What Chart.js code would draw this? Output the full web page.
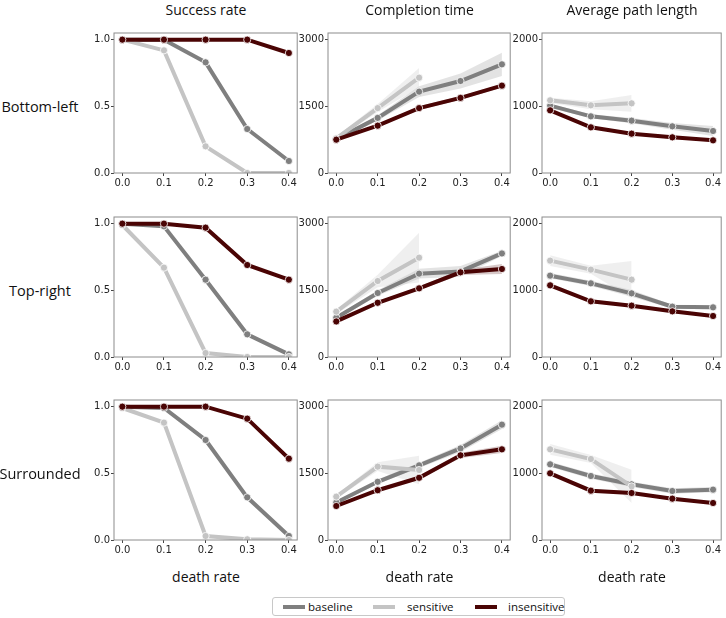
<!DOCTYPE html>
<html>
<head>
<meta charset="utf-8">
<script src="https://cdn.jsdelivr.net/npm/chart.js@4"></script>
<style>
  body { margin: 0; background: #fff; }
  #wrap { position: relative; width: 726px; height: 618px; font-family: "Open Sans", sans-serif; color: #111; overflow: hidden; }
  #wrap canvas { position: absolute; }
  .lbl { position: absolute; white-space: nowrap; transform: translate(-50%, -50%); }
  .title { font-size: 14px; }
  .row { font-size: 14.5px; }
  .xlab { font-size: 14px; }
  #legend { position: absolute; left: 272px; top: 597px; width: 293px; height: 19px; border: 1px solid #c8c8c8; border-radius: 3px; box-sizing: border-box; font-size: 11.5px; }
  #legend .ln { position: absolute; top: 7px; width: 22px; height: 4px; }
  #legend .tx { position: absolute; top: 0px; line-height: 17px; }
</style>
</head>
<body>
<div id="wrap"><div id="legend"></div></div>
<script>
const deathRates = [0, 0.1, 0.2, 0.3, 0.4];
const xTickLabels = ['0.0', '0.1', '0.2', '0.3', '0.4'];
const layouts = ['Bottom-left', 'Top-right', 'Surrounded'];
const metrics = ['Success rate', 'Completion time', 'Average path length'];
const seriesNames = ['baseline', 'sensitive', 'insensitive'];

// success rate, one row per layout
const srBaseline = [
  [1.00, 1.00, 0.83, 0.33, 0.09],
  [1.00, 0.98, 0.58, 0.17, 0.02],
  [1.00, 0.99, 0.75, 0.32, 0.03]
];
const srSensitive = [
  [1.00, 0.92, 0.20, 0.00, 0.00],
  [0.99, 0.67, 0.03, 0.00, 0.00],
  [0.99, 0.88, 0.03, 0.005, 0.00]
];
const srInsensitive = [
  [1.00, 1.00, 1.00, 1.00, 0.90],
  [1.00, 1.00, 0.97, 0.69, 0.58],
  [1.00, 1.00, 1.00, 0.91, 0.61]
];

// completion time
const ctBaseline = [
  [760, 1240, 1830, 2070, 2445],
  [885, 1440, 1875, 1925, 2330],
  [845, 1310, 1680, 2060, 2595]
];
const ctSensitive = [
  [780, 1460, 2145, null, null],
  [1020, 1710, 2235, null, null],
  [975, 1650, 1575, null, null]
];
const ctInsensitive = [
  [750, 1065, 1460, 1690, 1965],
  [800, 1220, 1545, 1905, 1980],
  [765, 1120, 1400, 1905, 2040]
];
const ctBaselineErr = [
  [30, 60, 120, 170, 260],
  [40, 60, 110, 120, 60],
  [40, 50, 60, 80, 100]
];
const ctSensitiveErr = [
  [40, 90, 220, null, null],
  [50, 140, 560, null, null],
  [40, 100, 320, null, null]
];
const ctInsensitiveErr = [
  [25, 30, 40, 40, 40],
  [25, 30, 40, 60, 110],
  [25, 30, 40, 60, 80]
];

// average path length
const plBaseline = [
  [1010, 850, 785, 700, 630],
  [1220, 1105, 955, 755, 745],
  [1135, 960, 835, 735, 755]
];
const plSensitive = [
  [1090, 1015, 1045, null, null],
  [1445, 1310, 1160, null, null],
  [1360, 1215, 805, null, null]
];
const plInsensitive = [
  [940, 685, 590, 535, 490],
  [1075, 835, 770, 685, 615],
  [1000, 740, 705, 620, 555]
];
const plBaselineErr = [
  [30, 30, 40, 50, 75],
  [40, 40, 50, 30, 30],
  [40, 40, 40, 40, 40]
];
const plSensitiveErr = [
  [40, 60, 125, null, null],
  [80, 60, 280, null, null],
  [80, 60, 250, null, null]
];
const plInsensitiveErr = [
  [20, 20, 20, 20, 20],
  [20, 20, 20, 20, 20],
  [20, 20, 20, 20, 20]
];

const srTicks = [0, 0.5, 1.0];
const srTickLabels = ['0.0', '0.5', '1.0'];
const ctTicks = [0, 1500, 3000];
const ctTickLabels = ['0', '1500', '3000'];
const plTicks = [0, 1000, 2000];
const plTickLabels = ['0', '1000', '2000'];

const colors = ['#7f7f7f', '#c4c4c4', '#4a0404'];
const bandColors = ['rgba(127,127,127,0.22)', 'rgba(196,196,196,0.28)', 'rgba(74,4,4,0.22)'];

const plotL = [114, 328, 542], plotR = [298, 511, 722];
const plotT = [33, 217, 400], plotB = [173, 357, 540];
const Y_AXIS_W = 34, X_AXIS_H = 22, PAD_TOP = 8, PAD_RIGHT = 4;

const framePlugin = {
  id: 'frame',
  afterDraw(chart) {
    const a = chart.chartArea, ctx = chart.ctx;
    ctx.save();
    ctx.strokeStyle = '#8c8c8c';
    ctx.lineWidth = 1;
    ctx.strokeRect(a.left, a.top, a.right - a.left, a.bottom - a.top);
    ctx.restore();
  }
};

function toXY(arr) {
  return arr.map((v, j) => ({ x: deathRates[j], y: v }));
}

function panelDatasets(vals, errs) {
  const ds = [];
  if (errs) {
    vals.forEach((v, i) => {
      const lo = v.map((y, j) => y === null ? null : y - errs[i][j]);
      const hi = v.map((y, j) => y === null ? null : y + errs[i][j]);
      ds.push({ data: toXY(lo), borderWidth: 0, borderColor: 'transparent', pointRadius: 0, fill: false, order: 20 - i });
      ds.push({ data: toXY(hi), borderWidth: 0, borderColor: 'transparent', pointRadius: 0, fill: ds.length - 1, backgroundColor: bandColors[i], order: 20 - i });
    });
  }
  vals.forEach((v, i) => {
    ds.push({
      label: seriesNames[i],
      data: toXY(v),
      borderColor: colors[i],
      backgroundColor: colors[i],
      borderWidth: 4,
      pointRadius: 3.6,
      pointBorderColor: '#fff',
      pointBorderWidth: 0.8,
      fill: false,
      order: 3 - i
    });
  });
  return ds;
}

function buildPanel(r, c, vals, errs, yTicks, yLabels, yMax) {
  const left = plotL[c] - Y_AXIS_W;
  const top = plotT[r] - PAD_TOP;
  const w = plotR[c] - plotL[c] + Y_AXIS_W + PAD_RIGHT;
  const h = plotB[r] - plotT[r] + PAD_TOP + X_AXIS_H;
  const cv = document.createElement('canvas');
  cv.width = w; cv.height = h;
  cv.style.left = left + 'px'; cv.style.top = top + 'px';
  cv.style.width = w + 'px'; cv.style.height = h + 'px';
  document.getElementById('wrap').appendChild(cv);

  const tickFont = { family: 'DejaVu Sans', size: 10 };
  return new Chart(cv.getContext('2d'), {
    type: 'line',
    data: { datasets: panelDatasets(vals, errs) },
    options: {
      responsive: false,
      animation: false,
      events: [],
      layout: { padding: { top: PAD_TOP, right: PAD_RIGHT, left: 0, bottom: 0 } },
      elements: { line: { tension: 0 } },
      plugins: { legend: { display: false }, tooltip: { enabled: false } },
      scales: {
        x: {
          type: 'linear', min: -0.02, max: 0.42,
          afterBuildTicks: s => { s.ticks = deathRates.map(v => ({ value: v })); },
          afterFit: s => { s.height = X_AXIS_H; },
          ticks: { callback: (v, i) => xTickLabels[i], font: tickFont, color: '#222', autoSkip: false, maxRotation: 0, padding: 1 },
          grid: { drawOnChartArea: false, drawTicks: true, tickLength: 3, tickColor: '#444' },
          border: { display: false }
        },
        y: {
          type: 'linear', min: 0, max: yMax,
          afterBuildTicks: s => { s.ticks = yTicks.map(v => ({ value: v })); },
          afterFit: s => { s.width = Y_AXIS_W; },
          ticks: { callback: (v, i) => yLabels[i], font: tickFont, color: '#222', padding: 1 },
          grid: { drawOnChartArea: false, drawTicks: true, tickLength: 3, tickColor: '#444' },
          border: { display: false }
        }
      }
    },
    plugins: [framePlugin]
  });
}

function addLabel(text, x, y, cls) {
  const d = document.createElement('div');
  d.className = 'lbl ' + cls;
  d.textContent = text;
  d.style.left = x + 'px'; d.style.top = y + 'px';
  document.getElementById('wrap').appendChild(d);
}

window.addEventListener('load', () => {
  for (let r = 0; r < 3; r++) {
    buildPanel(r, 0, [srBaseline[r], srSensitive[r], srInsensitive[r]], null, srTicks, srTickLabels, 1.05);
    buildPanel(r, 1, [ctBaseline[r], ctSensitive[r], ctInsensitive[r]],
      [ctBaselineErr[r], ctSensitiveErr[r], ctInsensitiveErr[r]], ctTicks, ctTickLabels, 3150);
    buildPanel(r, 2, [plBaseline[r], plSensitive[r], plInsensitive[r]],
      [plBaselineErr[r], plSensitiveErr[r], plInsensitiveErr[r]], plTicks, plTickLabels, 2100);
    addLabel(layouts[r], 40, (plotT[r] + plotB[r]) / 2 + 3, 'row');
  }
  for (let c = 0; c < 3; c++) {
    const cx = (plotL[c] + plotR[c]) / 2;
    addLabel(metrics[c], cx, 9, 'title');
    addLabel('death rate', cx, 576, 'xlab');
  }
  const legend = document.getElementById('legend');
  const lineX = [10, 100, 202], textX = [35, 134, 235];
  seriesNames.forEach((name, i) => {
    const ln = document.createElement('span');
    ln.className = 'ln';
    ln.style.left = lineX[i] + 'px';
    ln.style.background = colors[i];
    legend.appendChild(ln);
    const tx = document.createElement('span');
    tx.className = 'tx';
    tx.style.left = textX[i] + 'px';
    tx.textContent = name;
    legend.appendChild(tx);
  });
});
</script>
</body>
</html>
